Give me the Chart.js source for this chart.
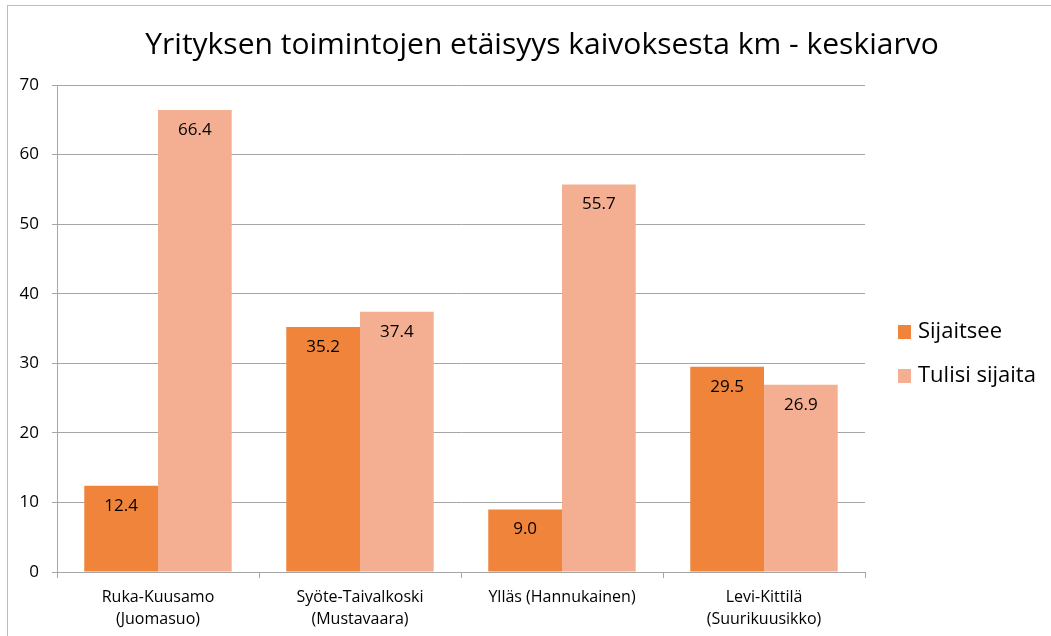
<!DOCTYPE html>
<html>
<head>
<meta charset="utf-8">
<script src="https://cdn.jsdelivr.net/npm/chart.js@4/dist/chart.umd.min.js"></script>
<style>
  html, body { margin: 0; padding: 0; background: #fff; }
  #wrap { position: relative; width: 1051px; height: 636px; }
  #frame { position: absolute; left: 7px; top: 5px; width: 1100px; height: 700px;
           border-left: 1px solid #bcbcbc; border-top: 1px solid #bcbcbc; pointer-events: none; }
</style>
</head>
<body>
<div id="wrap">
  <canvas id="kaivosChart" width="1051" height="636"></canvas>
  <div id="frame"></div>
</div>
<script>
// data
var categories = [
  ['Ruka-Kuusamo', '(Juomasuo)'],
  ['Syöte-Taivalkoski', '(Mustavaara)'],
  'Ylläs (Hannukainen)',
  ['Levi-Kittilä', '(Suurikuusikko)']
];
var sijaitsee = [12.4, 35.2, 9.0, 29.5];
var tulisiSijaita = [66.4, 37.4, 55.7, 26.9];
var yTicks = [0, 10, 20, 30, 40, 50, 60, 70];
var chartTitle = 'Yrityksen toimintojen etäisyys kaivoksesta km - keskiarvo';

var FONT = "'Open Sans', sans-serif";

// values inside top of bars
var barLabels = {
  id: 'barLabels',
  afterDatasetsDraw: function(chart) {
    var ctx = chart.ctx;
    ctx.save();
    ctx.font = '17px ' + FONT;
    ctx.fillStyle = '#000';
    ctx.textAlign = 'center';
    ctx.textBaseline = 'middle';
    chart.data.datasets.forEach(function(ds, i) {
      chart.getDatasetMeta(i).data.forEach(function(bar, j) {
        ctx.fillText(ds.data[j].toFixed(1), bar.x, bar.y + 20);
      });
    });
    ctx.restore();
  }
};

// title + legend, placed like the excel chart
var titleLegend = {
  id: 'titleLegend',
  afterDraw: function(chart) {
    var ctx = chart.ctx;
    ctx.save();
    ctx.fillStyle = '#000';
    ctx.font = '30px ' + FONT;
    ctx.textAlign = 'center';
    ctx.textBaseline = 'alphabetic';
    ctx.fillText(chartTitle, 542, 54);

    ctx.font = '22px ' + FONT;
    ctx.textAlign = 'left';
    ctx.textBaseline = 'middle';
    chart.data.datasets.forEach(function(ds, i) {
      var y = 332 + i * 44;
      ctx.fillStyle = ds.backgroundColor;
      ctx.fillRect(898, y - 7, 13, 14);
      ctx.fillStyle = '#000';
      ctx.fillText(ds.label, 918, y);
    });
    ctx.restore();
  }
};

var ctx1 = document.getElementById('kaivosChart');
var myBarChart1 = new Chart(ctx1, {
  type: 'bar',
  data: {
    labels: categories,
    datasets: [{
      label: 'Sijaitsee',
      data: sijaitsee,
      backgroundColor: '#EF843A'
    }, {
      label: 'Tulisi sijaita',
      data: tulisiSijaita,
      backgroundColor: '#F4AF93'
    }]
  },
  options: {
    responsive: false,
    animation: false,
    layout: {
      padding: { top: 85, right: 186, left: 0, bottom: 0 }
    },
    categoryPercentage: 0.73,
    barPercentage: 1.0,
    plugins: {
      legend: { display: false },
      title: { display: false },
      tooltip: { enabled: false }
    },
    scales: {
      x: {
        grid: {
          offset: true,
          drawOnChartArea: false,
          color: '#a6a6a6',
          tickLength: 6
        },
        border: { color: '#a6a6a6' },
        ticks: {
          color: '#000',
          font: { family: FONT, size: 16, lineHeight: 1.35 },
          padding: 9
        },
        afterFit: function(scale) { scale.height = 64; }
      },
      y: {
        min: 0,
        max: 70,
        afterBuildTicks: function(scale) {
          scale.ticks = yTicks.map(function(v) { return { value: v }; });
        },
        grid: {
          color: '#a6a6a6',
          tickLength: 5
        },
        border: { color: '#a6a6a6' },
        ticks: {
          color: '#000',
          font: { family: FONT, size: 17 },
          padding: 13
        },
        afterFit: function(scale) { scale.width = 57; }
      }
    }
  },
  plugins: [barLabels, titleLegend]
});
</script>
</body>
</html>
